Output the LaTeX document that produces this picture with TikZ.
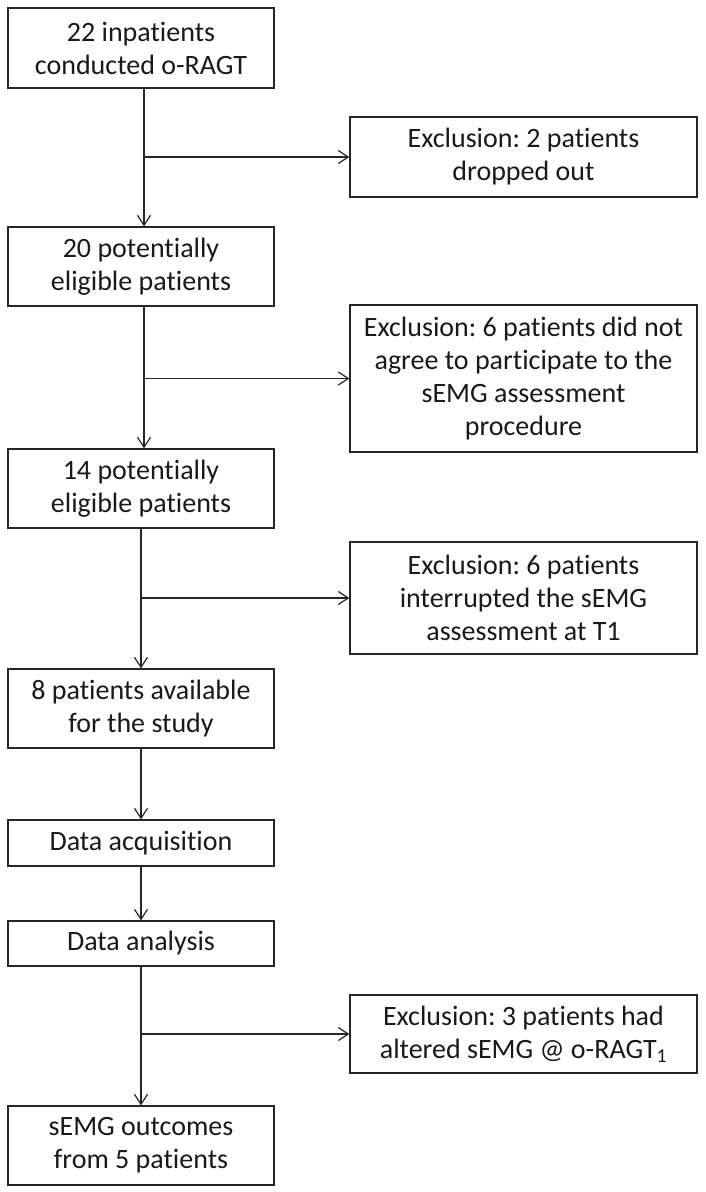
\documentclass[tikz,border=0pt]{standalone}
\usepackage{fontspec}
\setmainfont[Ligatures=NoCommon]{Carlito}
\usetikzlibrary{arrows.meta}
\frenchspacing
\begin{document}
\begin{tikzpicture}[x=1pt,y=-1pt,
  box/.style={draw=black!85, line width=1.2pt, rectangle, inner sep=0pt, align=center,
    font=\fontsize{28}{33}\selectfont, text=black!90},
  lbox/.style={box, minimum width=266pt},
  rbox/.style={box, minimum width=347pt},
  arr/.style={draw=black!85, line width=1.2pt, -{Straight Barb[length=10pt,width=13pt,line width=1.2pt]}}]
\useasboundingbox (0,0) rectangle (706,1192);
\node[lbox, minimum height=80pt] (L1) at (141,48) {22 inpatients\\conducted o-RAGT};
\node[lbox, minimum height=79pt] (L2) at (141,266.5) {20 potentially\\eligible patients};
\node[lbox, minimum height=79pt] (L3) at (141,488.5) {14 potentially\\eligible patients};
\node[lbox, minimum height=79pt] (L4) at (141,708.5) {8 patients available\\for the study};
\node[lbox, minimum height=46pt] (L5) at (141,843) {Data acquisition};
\node[lbox, minimum height=45pt] (L6) at (141,943.5) {Data analysis};
\node[lbox, minimum height=79pt] (L7) at (141,1145.5) {sEMG outcomes\\from 5 patients};
\node[rbox, minimum height=80pt] (R1) at (523.5,157) {Exclusion: 2 patients\\dropped out};
\node[rbox, minimum height=147pt] (R2) at (523.5,378.5) {Exclusion: 6 patients did not\\agree to participate to the\\sEMG assessment\\procedure};
\node[rbox, minimum height=112pt] (R3) at (523.5,598) {Exclusion: 6 patients\\interrupted the sEMG\\assessment at T1};
\node[rbox, minimum height=78pt] (R4) at (523.5,1034) {Exclusion: 3 patients had\\altered sEMG @ o-RAGT\textsubscript{1}};
\coordinate (V1) at ([xshift=3pt]L1.south);
\coordinate (V2) at ([xshift=3pt]L2.south);
\draw[arr] (V1) -- (V1 |- L2.north);
\draw[arr] (V1 |- R1.west) -- (R1.west);
\draw[arr] (V2) -- (V2 |- L3.north);
\draw[arr] (V2 |- R2.west) -- (R2.west);
\draw[arr] (L3.south) -- (L4.north);
\draw[arr] (L3.south |- R3.west) -- (R3.west);
\draw[arr] (L4.south) -- (L5.north);
\draw[arr] (L5.south) -- (L6.north);
\draw[arr] (L6.south) -- (L7.north);
\draw[arr] (L6.south |- R4.west) -- (R4.west);
\end{tikzpicture}
\end{document}
